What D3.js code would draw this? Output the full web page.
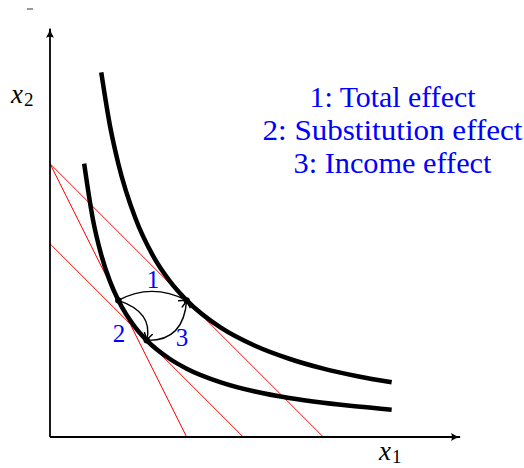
<!DOCTYPE html>
<html><head><meta charset="utf-8">
<script src="https://cdn.jsdelivr.net/npm/d3@7"></script>
<style>body{margin:0;background:#fff}svg{display:block}</style>
</head><body>
<script>
// ---- data ----
const axisMax = {x: 12, y: 11.95};
const innerX = [1, 1.25, 1.5, 1.75, 2, 2.5, 2.83, 3.5, 4, 5, 6, 7, 8, 9, 10];
const innerY = [8, 6.4, 5.33, 4.57, 4, 3.2, 2.83, 2.29, 2, 1.6, 1.33, 1.14, 1, 0.89, 0.8];
const outerX = [1.5, 1.75, 2, 2.5, 3, 3.5, 4, 5, 6, 7, 8, 9, 10];
const outerY = [10.67, 9.14, 8, 6.4, 5.33, 4.57, 4, 3.2, 2.67, 2.29, 2, 1.78, 1.6];
const budgetNames = ["original", "new", "compensated"];
const budgetYIntercept = [8, 8, 5.657];
const budgetXIntercept = [4, 8, 5.657];
const pointNames = ["A", "B", "C"];
const pointX = [2, 4, 2.83];
const pointY = [4, 4, 2.83];
const arrowLabels = ["1", "2", "3"];
const arrowFrom = ["A", "A", "C"];
const arrowTo = ["B", "C", "B"];
const legendLines = ["1: Total effect", "2: Substitution effect", "3: Income effect"];

const W = 524, H = 468;
const svg = d3.select("body").append("svg").attr("width", W).attr("height", H);
const x = d3.scaleLinear().domain([0, 12]).range([50, 460]);
const y = d3.scaleLinear().domain([0, 12]).range([437, 27]);

const defs = svg.append("defs");
defs.append("marker").attr("id", "ah").attr("viewBox", "-8 -5 10 10")
  .attr("refX", 0).attr("refY", 0).attr("markerWidth", 10).attr("markerHeight", 10)
  .attr("markerUnits", "userSpaceOnUse").attr("orient", "auto")
  .append("path").attr("d", "M-7,-4 Q-2.5,-1 0,0 Q-2.5,1 -7,4")
  .attr("fill", "none").attr("stroke", "#000").attr("stroke-width", 1.5).attr("stroke-linecap", "round");
defs.append("marker").attr("id", "axh").attr("viewBox", "-10 -5 12 10")
  .attr("refX", 0).attr("refY", 0).attr("markerWidth", 12).attr("markerHeight", 10)
  .attr("markerUnits", "userSpaceOnUse").attr("orient", "auto")
  .append("path").attr("d", "M-9,-4 Q-5,-1 1,0 Q-5,1 -9,4 Q-7,0 -9,-4Z").attr("fill", "#000");

// tiny mark at top-left (artifact in reference)
svg.append("line").attr("x1", 27).attr("x2", 33).attr("y1", 9).attr("y2", 9)
  .attr("stroke", "#555").attr("stroke-width", 1.2);

// budget lines
svg.append("g").selectAll("line").data(budgetNames).join("line")
  .attr("x1", x(0)).attr("y1", (d, i) => y(budgetYIntercept[i]))
  .attr("x2", (d, i) => x(budgetXIntercept[i])).attr("y2", y(0))
  .attr("stroke", "#ff0000").attr("stroke-width", 1);

// indifference curves
const line = d3.line().x(d => x(d[0])).y(d => y(d[1])).curve(d3.curveMonotoneX);
[[innerX, innerY], [outerX, outerY]].forEach(([xs, ys]) => {
  svg.append("path").attr("d", line(xs.map((v, i) => [v, ys[i]])))
    .attr("fill", "none").attr("stroke", "#000").attr("stroke-width", 4.5);
});

// axes
svg.append("line").attr("x1", x(0)).attr("y1", y(0)).attr("x2", x(0)).attr("y2", y(axisMax.y))
  .attr("stroke", "#000").attr("stroke-width", 1.8).attr("marker-end", "url(#axh)");
svg.append("line").attr("x1", x(0)).attr("y1", y(0)).attr("x2", x(axisMax.x)).attr("y2", y(0))
  .attr("stroke", "#000").attr("stroke-width", 1.8).attr("marker-end", "url(#axh)");

// points
const P = {};
pointNames.forEach((n, i) => P[n] = [x(pointX[i]), y(pointY[i])]);

// effect arrows
const ctrl = [
  (a, b) => [(a[0] + b[0]) / 2 - 1, a[1] - 18],
  (a, b) => [b[0] + 7, a[1] + 12],
  (a, b) => [b[0] - 3, a[1] + 1]
];
const labelPos = [[153, 288], [119, 342], [182, 346]];
arrowLabels.forEach((lab, i) => {
  const a = P[arrowFrom[i]], b = P[arrowTo[i]];
  const c = ctrl[i](a, b);
  svg.append("path").attr("d", `M${a[0]},${a[1]} Q${c[0]},${c[1]} ${b[0]},${b[1]}`)
    .attr("fill", "none").attr("stroke", "#000").attr("stroke-width", 1.4)
    .attr("marker-end", "url(#ah)");
  svg.append("text").attr("x", labelPos[i][0]).attr("y", labelPos[i][1])
    .attr("text-anchor", "middle").attr("font-family", "Liberation Serif")
    .attr("font-size", 25).attr("fill", "#0000ff").text(lab);
});

svg.append("g").selectAll("circle").data(pointNames).join("circle")
  .attr("cx", d => P[d][0]).attr("cy", d => P[d][1]).attr("r", 3.2).attr("fill", "#000");

// legend text
const legW = [166, 260, 198];
svg.append("g").selectAll("text").data(legendLines).join("text")
  .attr("x", 392.5).attr("y", (d, i) => 107 + i * 33)
  .attr("text-anchor", "middle").attr("font-family", "Liberation Serif")
  .attr("font-size", 29).attr("fill", "#0000ff")
  .attr("textLength", (d, i) => legW[i]).attr("lengthAdjust", "spacingAndGlyphs")
  .text(d => d);

// axis labels
function mathLabel(px, py, sub) {
  const t = svg.append("text").attr("x", px).attr("y", py)
    .attr("font-family", "Liberation Serif").attr("font-size", 27).attr("fill", "#000");
  t.append("tspan").attr("font-style", "italic").text("x");
  t.append("tspan").attr("font-size", 19).attr("dx", 1).attr("dy", 3).text(sub);
}
mathLabel(11, 103, "2");
mathLabel(379, 460, "1");
</script>
</body></html>
